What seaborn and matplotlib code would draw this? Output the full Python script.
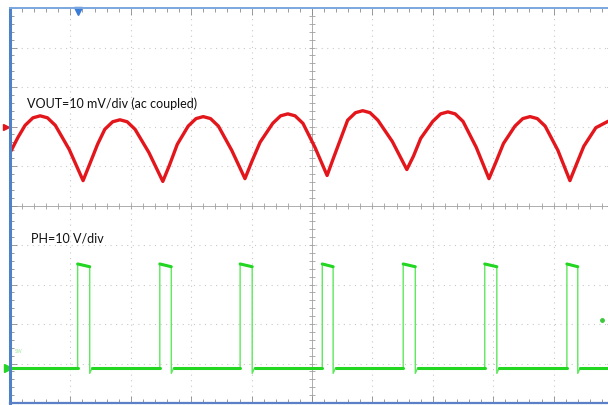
import pandas as pd
import seaborn as sns
import matplotlib.pyplot as plt
from matplotlib.ticker import MultipleLocator

# screen is 10 x 10 divisions; values in divisions
vout_t = [0.02, 0.13, 0.25, 0.38, 0.50, 0.62, 0.75, 0.98, 1.21,
          1.32, 1.45, 1.57, 1.70, 1.82, 1.94, 2.07, 2.30, 2.53,
          2.64, 2.77, 2.95, 3.08, 3.20, 3.32, 3.45, 3.67, 3.89,
          4.00, 4.14, 4.35, 4.48, 4.60, 4.72, 4.85, 5.05, 5.25,
          5.35, 5.47, 5.59, 5.72, 5.84, 5.96, 6.09, 6.33, 6.57,
          6.68, 6.80, 7.00, 7.13, 7.25, 7.37, 7.50, 7.72, 7.93,
          8.04, 8.17, 8.36, 8.49, 8.61, 8.73, 8.86, 9.07, 9.27,
          9.38, 9.50, 9.70, 9.90, 10.0]
vout_v = [1.39, 1.72, 2.03, 2.22, 2.27, 2.22, 2.03, 1.42, 0.63,
          1.05, 1.55, 1.93, 2.12, 2.17, 2.12, 1.93, 1.34, 0.61,
          1.02, 1.55, 2.01, 2.20, 2.25, 2.20, 2.01, 1.40, 0.68,
          1.10, 1.60, 2.08, 2.27, 2.32, 2.27, 2.08, 1.47, 0.76,
          1.18, 1.67, 2.16, 2.35, 2.40, 2.35, 2.16, 1.62, 0.91,
          1.25, 1.70, 2.13, 2.32, 2.37, 2.32, 2.13, 1.47, 0.68,
          1.08, 1.57, 2.01, 2.20, 2.25, 2.20, 2.01, 1.40, 0.63,
          1.05, 1.50, 1.97, 2.13, 2.16]

ph_rise = [1.12, 2.48, 3.81, 5.17, 6.51, 7.86, 9.22]
ph_fall = [1.32, 2.67, 4.01, 5.35, 6.71, 8.06, 9.40]
ph_low = -4.11
ph_high_start = -1.48
ph_high_end = -1.55
ph_undershoot = -4.25

ch1_ref = 2.0
trig_level = -2.90

# build PH trace from the read edges
tx, ty = [0.03], [ph_low]
for r, f in zip(ph_rise, ph_fall):
    tx += [r, r, r + 0.03, f, f, f + 0.04]
    ty += [ph_low, ph_high_start, ph_high_start, ph_high_end, ph_undershoot, ph_low]
tx.append(10.0)
ty.append(ph_low)
ph_trace = pd.DataFrame({"t": tx, "v": ty})

segs = []
starts = [0.03] + [f + 0.04 for f in ph_fall]
ends = ph_rise + [10.0]
for i, (a, b) in enumerate(zip(starts, ends)):
    segs += [("b%d" % i, a, ph_low), ("b%d" % i, b, ph_low)]
for i, (r, f) in enumerate(zip(ph_rise, ph_fall)):
    segs += [("h%d" % i, r, ph_high_start), ("h%d" % i, f, ph_high_end)]
ph_thick = pd.DataFrame(segs, columns=["seg", "t", "v"])

sns.set_style("white")
plt.rcParams['font.family'] = ['Lato', 'DejaVu Sans']

fig = plt.figure(figsize=(6.08, 4.06), dpi=100)
ax = fig.add_axes([10 / 608, 2 / 406, 604 / 608, 395 / 406])
ax.set_xlim(0, 10)
ax.set_ylim(-5, 5)

# graticule
grid_kw = dict(color="#c9c9c9", lw=0.8, ls=(0, (1, 4)), zorder=0)
for k in range(1, 10):
    if k != 5:
        ax.axvline(k, **grid_kw)
        ax.axhline(k - 5, **grid_kw)
ax.axvline(5, color="#a0a0a0", lw=0.6, zorder=0)
ax.axhline(0, color="#a0a0a0", lw=0.6, zorder=0)
ticks = [i * 0.2 for i in range(51)]
ax.plot(ticks, [0] * len(ticks), ls="none", marker="|", ms=4, color="#a0a0a0", mew=0.6, zorder=0)
ax.plot([5] * len(ticks), [t - 5 for t in ticks], ls="none", marker="_", ms=4, color="#a0a0a0", mew=0.6, zorder=0)

ax.xaxis.set_major_locator(MultipleLocator(1))
ax.xaxis.set_minor_locator(MultipleLocator(0.2))
ax.yaxis.set_major_locator(MultipleLocator(1))
ax.yaxis.set_minor_locator(MultipleLocator(0.2))
ax.tick_params(which="both", direction="in", top=True, bottom=True, left=True, right=True,
               labelbottom=False, labelleft=False, color="#8a8a8a", width=0.6)
ax.tick_params(which="major", length=5)
ax.tick_params(which="minor", length=3)
for side, c, w in [("left", "#4f81c9", 2.2), ("bottom", "#5b80c8", 1.6),
                   ("top", "#7aa7e0", 1.4), ("right", "#7aa7e0", 1.0)]:
    ax.spines[side].set_color(c)
    ax.spines[side].set_linewidth(w)

# traces
sns.lineplot(data=ph_trace, x="t", y="v", sort=False, estimator=None,
             color="#5ee85e", lw=1.0, ax=ax)
sns.lineplot(data=ph_thick, x="t", y="v", units="seg", sort=False, estimator=None,
             color="#22d622", lw=2.2, ax=ax)
sns.lineplot(x=vout_t, y=vout_v, sort=False, estimator=None, color="#e3161c", lw=2.4,
             solid_joinstyle="round", ax=ax)

# scope markers
ax.plot(ph_rise[0], 4.93, marker="v", color="#3a7bd5", ms=6, clip_on=False)
ax.plot(-0.06, ch1_ref, marker=">", color="#e3161c", ms=5, clip_on=False)
ax.plot(-0.04, ph_low, marker=">", color="#22d622", ms=6, clip_on=False)
ax.plot(9.80, trig_level, marker="o", color="#3cc83c", ms=2.5)
ax.text(0.08, -3.68, "SW", fontsize=3.5, color="#9be39b", va="center")

ax.text(0.28, 2.6, "VOUT=10 mV/div (ac coupled)", fontsize=9, va="center", color="#111111")
ax.text(0.35, -0.8, "PH=10 V/div", fontsize=9, va="center", color="#111111")
ax.set_xlabel("")
ax.set_ylabel("")

fig.savefig("out.png", dpi=100)
